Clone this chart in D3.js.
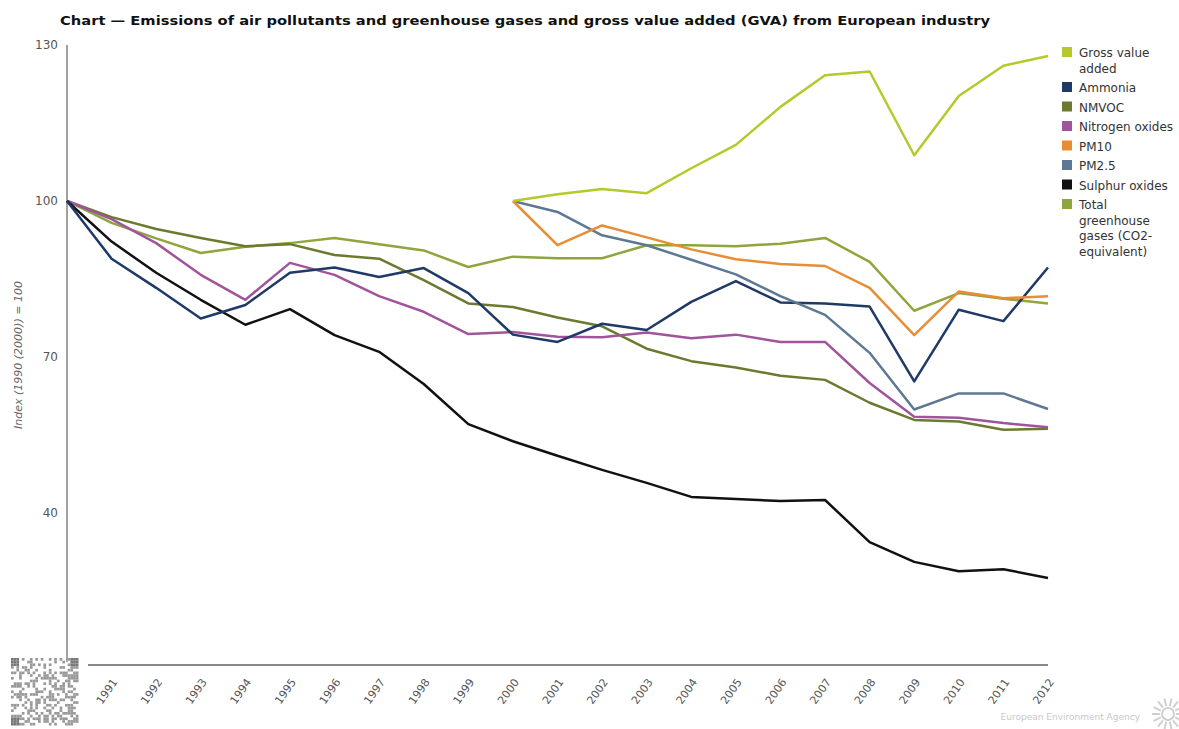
<!DOCTYPE html>
<html><head><meta charset="utf-8">
<script src="https://cdn.jsdelivr.net/npm/d3@7"></script>
<style>body{margin:0;background:#fff;}svg{display:block;font-family:"DejaVu Sans",Verdana,sans-serif;}</style>
</head><body><svg id="c" width="1179" height="729"></svg>
<script>
const years = d3.range(1990, 2013);
const yearsFrom2000 = d3.range(2000, 2013);
const yTicks = [40, 70, 100, 130];
const titleText = "Chart — Emissions of air pollutants and greenhouse gases and gross value added (GVA) from European industry";
const yLabel = "Index (1990 (2000)) = 100";

const gva      = [100,101.3,102.3,101.5,106.3,110.8,118.1,124.2,124.9,108.8,120.2,126.0,127.9];
const pm10     = [100,91.5,95.3,93.0,90.7,88.8,87.9,87.5,83.3,74.2,82.6,81.3,81.7];
const pm25     = [100,97.9,93.4,91.5,88.7,85.9,81.7,78.1,70.8,59.9,63.0,63.0,60.0];
const ammonia  = [100,88.9,83.3,77.4,80.0,86.2,87.2,85.4,87.1,82.3,74.3,72.9,76.4,75.2,80.6,84.6,80.5,80.3,79.7,65.3,79.1,76.9,87.2];
const nmvoc    = [100,96.9,94.6,92.9,91.3,91.7,89.6,88.9,84.8,80.3,79.6,77.6,75.9,71.6,69.2,68.0,66.4,65.6,61.2,57.9,57.6,56.0,56.2];
const nox      = [100,96.5,91.9,85.8,81.0,88.1,85.8,81.7,78.7,74.4,74.8,73.9,73.8,74.7,73.6,74.3,72.9,72.9,65.0,58.5,58.3,57.3,56.5];
const sox      = [100,92.2,86.2,81.0,76.2,79.2,74.2,71.0,64.8,57.1,53.8,51.0,48.3,45.8,43.1,42.7,42.3,42.5,34.4,30.6,28.8,29.2,27.5];
const ghg      = [100,95.8,92.8,90.0,91.2,91.9,92.9,91.7,90.5,87.3,89.3,89.0,89.0,91.5,91.5,91.3,91.8,92.9,88.3,78.9,82.3,81.2,80.3];

const seriesNames = ["Gross value\nadded","Ammonia","NMVOC","Nitrogen oxides","PM10","PM2.5","Sulphur oxides","Total\ngreenhouse\ngases (CO2-\nequivalent)"];
const seriesColors = ["#b5c92b","#1f3a66","#6b7a30","#a0549c","#e88d35","#5d7895","#111111","#8ea63d"];
const seriesData = [
  {x: yearsFrom2000, v: gva},
  {x: years, v: ammonia},
  {x: years, v: nmvoc},
  {x: years, v: nox},
  {x: yearsFrom2000, v: pm10},
  {x: yearsFrom2000, v: pm25},
  {x: years, v: sox},
  {x: years, v: ghg}
];
const drawOrder = [7,2,3,6,1,5,4,0];

const svg = d3.select("#c");
const x = d3.scaleLinear().domain([1990, 2012]).range([67, 1048]);
const y = d3.scaleLinear().domain([40, 130]).range([513, 45]);

// title
svg.append("text").attr("x", 60).attr("y", 25).attr("font-size", 13).attr("font-weight", "bold")
  .attr("fill", "#111").attr("textLength", 930).attr("lengthAdjust", "spacingAndGlyphs").text(titleText);

// axes lines
svg.append("line").attr("x1", 67).attr("x2", 67).attr("y1", 45).attr("y2", 662).attr("stroke", "#8a8a8a").attr("stroke-width", 1.6);
svg.append("line").attr("x1", 88).attr("x2", 1048).attr("y1", 665).attr("y2", 665).attr("stroke", "#8a8a8a").attr("stroke-width", 2);

// y tick labels via axis
const yAxis = d3.axisLeft(y).tickValues(yTicks).tickSize(0).tickPadding(9);
const gy = svg.append("g").attr("transform", "translate(67,0)").call(yAxis);
gy.select(".domain").remove();
gy.selectAll("text").attr("font-size", 12).attr("fill", "#555").attr("font-family", "DejaVu Sans, sans-serif");

// y label
svg.append("text").attr("transform", "translate(22,355) rotate(-90)").attr("text-anchor", "middle")
  .attr("font-size", 11).attr("font-style", "italic").attr("fill", "#666").text(yLabel);

// x tick labels via axis
const xAxis = d3.axisBottom(x).tickValues(d3.range(1991, 2013)).tickFormat(d3.format("d")).tickSize(0);
const gx = svg.append("g").attr("transform", "translate(0,665)").call(xAxis);
gx.select(".domain").remove();
gx.selectAll("text").attr("font-size", 11).attr("fill", "#555").attr("font-family", "DejaVu Sans, sans-serif")
  .attr("text-anchor", "end").attr("dy", 0).attr("y", 0)
  .attr("transform", "translate(6,17) rotate(-55)");

// lines
const line = d3.line().x(d => x(d[0])).y(d => y(d[1]));
drawOrder.forEach(i => {
  const s = seriesData[i];
  svg.append("path").datum(s.x.map((yr, k) => [yr, s.v[k]]))
    .attr("d", line).attr("fill", "none").attr("stroke", seriesColors[i])
    .attr("stroke-width", 2.5).attr("stroke-linejoin", "round");
});

// legend
const lg = svg.append("g");
let by = 57;
seriesNames.forEach((name, i) => {
  const lines = name.split("\n");
  lg.append("rect").attr("x", 1062).attr("y", by - 10).attr("width", 10).attr("height", 10).attr("fill", seriesColors[i]);
  lines.forEach((t, k) => {
    lg.append("text").attr("x", 1079).attr("y", by + k * 15.5).attr("font-size", 12).attr("fill", "#333").text(t);
  });
  by += (lines.length - 1) * 15.5 + 19.5;
});

// QR-like decoration
const qr = svg.append("g").attr("transform", "translate(11,658)");
const n = 25, m = 2.7;
for (let r = 0; r < n; r++) for (let c = 0; c < n; c++) {
  const h = ((r * 73856093) ^ (c * 19349663) ^ (r * c * 83492791)) >>> 0;
  const finder = (r < 3 && c < 3) || (r < 3 && c > n - 4) || (r > n - 4 && c < 3);
  if (finder || h % 7 < 3) qr.append("rect").attr("x", c * m).attr("y", r * m).attr("width", m).attr("height", m).attr("fill", finder ? "#777" : "#999");
}

// EEA footer
svg.append("text").attr("x", 1140).attr("y", 720).attr("text-anchor", "end").attr("font-size", 9).attr("fill", "#c8c8c8").text("European Environment Agency");
const sun = svg.append("g").attr("transform", "translate(1168,714)");
d3.range(14).forEach(k => {
  const a = k / 14 * 2 * Math.PI;
  sun.append("line").attr("x1", Math.cos(a) * 8).attr("y1", Math.sin(a) * 8).attr("x2", Math.cos(a) * 16).attr("y2", Math.sin(a) * 16)
    .attr("stroke", "#d0d0d0").attr("stroke-width", 2);
});
sun.append("circle").attr("r", 6).attr("fill", "none").attr("stroke", "#d0d0d0").attr("stroke-width", 2);
</script></body></html>
